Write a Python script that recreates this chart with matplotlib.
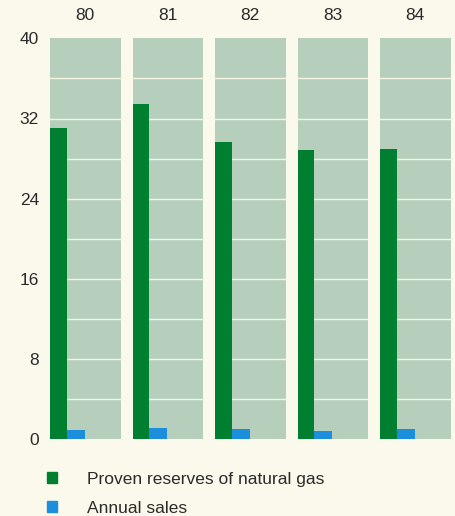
import matplotlib.pyplot as plt
from matplotlib.patches import Patch

plt.rcParams["font.family"] = ["Liberation Sans", "DejaVu Sans"]

# natural gas, one panel per year
years = ["80", "81", "82", "83", "84"]
reserves = [31.1, 33.4, 29.7, 28.9, 29.0]
sales = [0.9, 1.15, 1.0, 0.8, 1.0]
y_ticks = [0, 8, 16, 24, 32, 40]
grid_lines = [4, 8, 12, 16, 20, 24, 28, 32, 36]

bg = "#fbf9ec"
panel_bg = "#b6cfbd"
green = "#007f30"
blue = "#1b8fdc"
text_col = "#2b2b2b"
fs = 12.5

fig = plt.figure(figsize=(4.55, 5.16), dpi=100, facecolor=bg)

W, H = 455.0, 516.0
top_px, bottom_px = 38.3, 439.3
panel_w = 70.5
step = 82.5

for i, yr in enumerate(years):
    left = 50 + i * step
    ax = fig.add_axes([left / W, 1 - bottom_px / H, panel_w / W, (bottom_px - top_px) / H])
    ax.set_facecolor(panel_bg)
    ax.set_xlim(0, 1)
    ax.set_ylim(0, 40)
    for g in grid_lines:
        ax.axhline(g, color="#f6f3e2", lw=1.0, zorder=1)
    ax.bar(0, reserves[i], width=0.235, align="edge", color=green, zorder=2)
    ax.bar(0.235, sales[i], width=0.26, align="edge", color=blue, zorder=2)
    for s in ax.spines.values():
        s.set_visible(False)
    ax.set_xticks([])
    ax.set_title(yr, fontsize=fs, color=text_col, pad=13)
    if i == 0:
        ax.set_yticks(y_ticks)
        ax.tick_params(axis="y", length=0, pad=8, labelsize=fs, labelcolor=text_col)
    else:
        ax.set_yticks([])

handles = [Patch(color=green), Patch(color=blue)]
labels = ["Proven reserves of natural gas", "Annual sales"]
fig.legend(handles, labels, loc="upper left", bbox_to_anchor=(31 / W, 1 - 456 / H),
           frameon=False, fontsize=fs, handlelength=0.6, handleheight=0.6,
           handletextpad=1.7, labelspacing=0.8, labelcolor=text_col)

fig.savefig("out.png", dpi=100, facecolor=bg)
